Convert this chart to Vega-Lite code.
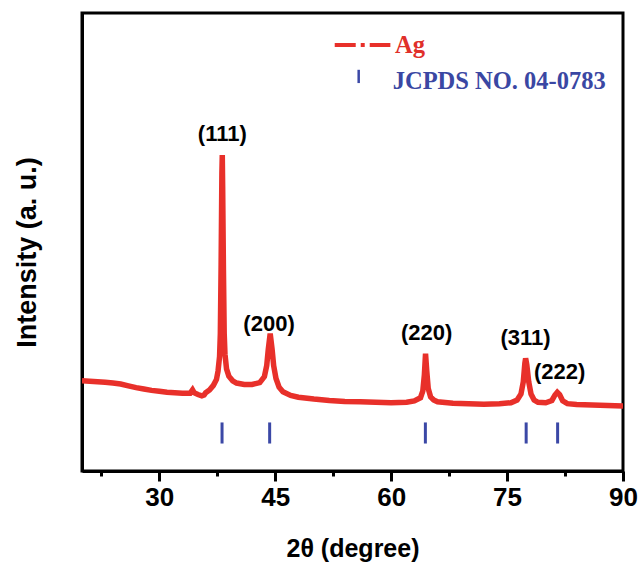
{
  "$schema": "https://vega.github.io/schema/vega-lite/v6.json",
  "autosize": "none",
  "width": 541,
  "height": 458,
  "padding": {"left": 82, "top": 13, "right": 17, "bottom": 93},
  "background": "white",
  "config": {
    "view": {"stroke": "black", "strokeWidth": 3},
    "font": "Liberation Sans"
  },
  "datasets": {
    "xrd": [
      {"t": 20, "i": 19.7}, {"t": 21, "i": 19.6}, {"t": 22, "i": 19.5}, {"t": 23, "i": 19.4},
      {"t": 24, "i": 19.2}, {"t": 25, "i": 19.0}, {"t": 26, "i": 18.6}, {"t": 27, "i": 18.2},
      {"t": 28, "i": 17.9}, {"t": 29, "i": 17.6}, {"t": 30, "i": 17.4}, {"t": 31, "i": 17.2},
      {"t": 32, "i": 17.1}, {"t": 33, "i": 17.0}, {"t": 34, "i": 17.0}, {"t": 34.3, "i": 17.7},
      {"t": 34.5, "i": 17.1}, {"t": 35, "i": 16.7}, {"t": 35.5, "i": 16.4}, {"t": 35.8, "i": 16.6},
      {"t": 36, "i": 17.1}, {"t": 36.5, "i": 17.7}, {"t": 37, "i": 18.7}, {"t": 37.4, "i": 20.0},
      {"t": 37.6, "i": 21.8}, {"t": 37.8, "i": 25}, {"t": 37.9, "i": 30}, {"t": 38.0, "i": 45},
      {"t": 38.1, "i": 65}, {"t": 38.15, "i": 69.0}, {"t": 38.2, "i": 62}, {"t": 38.3, "i": 44},
      {"t": 38.4, "i": 30}, {"t": 38.5, "i": 25.5}, {"t": 38.7, "i": 22.3}, {"t": 39.0, "i": 20.7},
      {"t": 39.5, "i": 19.7}, {"t": 40, "i": 19.2}, {"t": 41, "i": 18.9}, {"t": 42, "i": 18.9},
      {"t": 43, "i": 19.3}, {"t": 43.6, "i": 20.6}, {"t": 43.9, "i": 23}, {"t": 44.1, "i": 26.5},
      {"t": 44.35, "i": 30.0}, {"t": 44.6, "i": 26.5}, {"t": 44.8, "i": 23}, {"t": 45.1, "i": 20.2},
      {"t": 45.5, "i": 18.3}, {"t": 46, "i": 17.3}, {"t": 47, "i": 16.5}, {"t": 48, "i": 16.1},
      {"t": 50, "i": 15.7}, {"t": 52, "i": 15.4}, {"t": 54, "i": 15.2}, {"t": 56, "i": 15.1},
      {"t": 58, "i": 15.0}, {"t": 60, "i": 14.9}, {"t": 62, "i": 15.0}, {"t": 63, "i": 15.3},
      {"t": 63.8, "i": 16.0}, {"t": 64.1, "i": 17.5}, {"t": 64.3, "i": 21}, {"t": 64.45, "i": 25.6},
      {"t": 64.6, "i": 22}, {"t": 64.8, "i": 18}, {"t": 65.1, "i": 16.2}, {"t": 65.5, "i": 15.5},
      {"t": 66, "i": 15.1}, {"t": 68, "i": 14.8}, {"t": 70, "i": 14.7}, {"t": 72, "i": 14.6},
      {"t": 74, "i": 14.7}, {"t": 75.5, "i": 14.9}, {"t": 76.3, "i": 15.5}, {"t": 76.8, "i": 16.8},
      {"t": 77.1, "i": 19.5}, {"t": 77.3, "i": 23.5}, {"t": 77.4, "i": 24.6}, {"t": 77.55, "i": 23.2},
      {"t": 77.8, "i": 19.5}, {"t": 78.1, "i": 16.8}, {"t": 78.5, "i": 15.5}, {"t": 79, "i": 15.0},
      {"t": 80, "i": 14.9}, {"t": 80.8, "i": 15.4}, {"t": 81.2, "i": 16.6}, {"t": 81.5, "i": 17.2},
      {"t": 81.8, "i": 16.7}, {"t": 82.2, "i": 15.3}, {"t": 82.8, "i": 14.7}, {"t": 84, "i": 14.5},
      {"t": 86, "i": 14.4}, {"t": 88, "i": 14.3}, {"t": 90, "i": 14.2}
    ],
    "jcpds": [
      {"t": 38.12, "lo": 6, "hi": 10.6}, {"t": 44.28, "lo": 6, "hi": 10.6},
      {"t": 64.43, "lo": 6, "hi": 10.6}, {"t": 77.47, "lo": 6, "hi": 10.6},
      {"t": 81.54, "lo": 6, "hi": 10.6}
    ],
    "peaks": [
      {"t": 38.15, "i": 73.6, "hkl": "(111)"},
      {"t": 44.2, "i": 32.0, "hkl": "(200)"},
      {"t": 64.6, "i": 30.2, "hkl": "(220)"},
      {"t": 77.4, "i": 29.1, "hkl": "(311)"},
      {"t": 81.8, "i": 21.6, "hkl": "(222)"}
    ],
    "legline": [{"t": 52.7, "t2": 59.9, "i": 93.0}],
    "legtick": [{"t": 55.8, "lo": 84.7, "hi": 87.6}],
    "legtext": [
      {"t": 60.5, "i": 91.3, "txt": "Ag", "kind": "red"},
      {"t": 60.2, "i": 83.4, "txt": "JCPDS NO. 04-0783", "kind": "blue"}
    ]
  },
  "layer": [
    {
      "data": {"name": "xrd"},
      "mark": {"type": "line", "color": "#e8302a", "strokeWidth": 5.5, "clip": true},
      "encoding": {
        "x": {
          "field": "t", "type": "quantitative",
          "scale": {"domain": [20, 90], "nice": false, "zero": false},
          "axis": {
            "title": "2θ  (degree)",
            "titleFont": "Liberation Sans", "titleFontSize": 25, "titleFontWeight": "bold",
            "titleColor": "black", "titleY": 77, "titleBaseline": "middle",
            "values": [22.5, 30, 37.5, 45, 52.5, 60, 67.5, 75, 82.5, 90],
            "labelExpr": "datum.value % 15 === 0 ? format(datum.value, 'd') : ''",
            "labelFont": "Liberation Sans", "labelFontSize": 26, "labelFontWeight": "bold",
            "labelColor": "black", "labelPadding": 3, "labelOverlap": false, "labelFlush": false,
            "tickSize": {"condition": {"test": "datum.value % 15 === 0", "value": 10}, "value": 5},
            "tickColor": "black", "tickWidth": 3,
            "domainColor": "black", "domainWidth": 3, "grid": false
          }
        },
        "y": {
          "field": "i", "type": "quantitative",
          "scale": {"domain": [0, 100], "nice": false},
          "axis": {
            "title": "Intensity   (a. u.)",
            "titleFont": "Liberation Sans", "titleFontSize": 27, "titleFontWeight": "bold",
            "titleColor": "black", "titleX": -55, "titleY": 239, "titleAngle": -90,
            "titleAlign": "center", "titleBaseline": "middle",
            "labels": false, "ticks": false, "grid": false,
            "domainColor": "black", "domainWidth": 3
          }
        }
      }
    },
    {
      "data": {"name": "jcpds"},
      "mark": {"type": "rule", "color": "#3b48a6", "strokeWidth": 3},
      "encoding": {
        "x": {"field": "t", "type": "quantitative"},
        "y": {"field": "lo", "type": "quantitative"},
        "y2": {"field": "hi"}
      }
    },
    {
      "data": {"name": "peaks"},
      "mark": {"type": "text", "font": "Liberation Sans", "fontSize": 22, "fontWeight": "bold", "color": "black", "align": "center", "baseline": "middle"},
      "encoding": {
        "x": {"field": "t", "type": "quantitative"},
        "y": {"field": "i", "type": "quantitative"},
        "text": {"field": "hkl"}
      }
    },
    {
      "data": {"name": "legline"},
      "mark": {"type": "rule", "color": "#e8302a", "strokeWidth": 4, "strokeDash": [21, 5, 4, 5]},
      "encoding": {
        "x": {"field": "t", "type": "quantitative"},
        "x2": {"field": "t2"},
        "y": {"field": "i", "type": "quantitative"}
      }
    },
    {
      "data": {"name": "legtick"},
      "mark": {"type": "rule", "color": "#3b48a6", "strokeWidth": 2.5},
      "encoding": {
        "x": {"field": "t", "type": "quantitative"},
        "y": {"field": "lo", "type": "quantitative"},
        "y2": {"field": "hi"}
      }
    },
    {
      "data": {"name": "legtext"},
      "mark": {"type": "text", "font": "Liberation Serif", "fontSize": 24.5, "fontWeight": "bold", "align": "left", "baseline": "alphabetic"},
      "encoding": {
        "x": {"field": "t", "type": "quantitative"},
        "y": {"field": "i", "type": "quantitative"},
        "text": {"field": "txt"},
        "color": {"field": "kind", "type": "nominal", "scale": {"domain": ["red", "blue"], "range": ["#e0302a", "#3a47a3"]}, "legend": null}
      }
    }
  ]
}
